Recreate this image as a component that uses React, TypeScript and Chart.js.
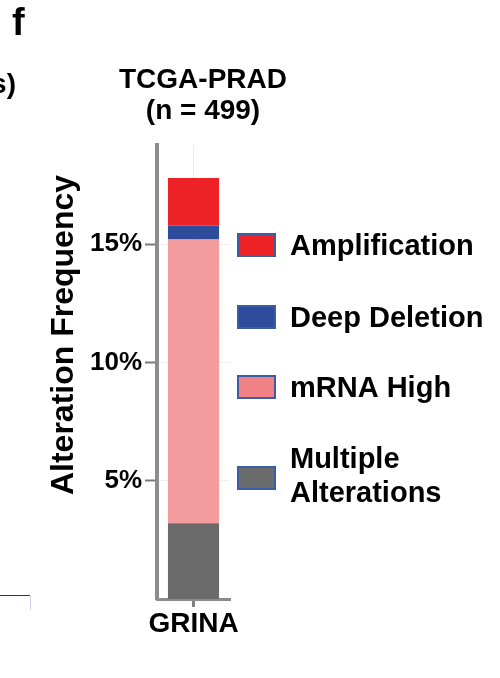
import React, { useEffect, useRef } from 'react';
import { Chart, registerables } from 'chart.js';

Chart.register(...registerables);

const categories = ['GRINA'];
const seriesLabels = ['Multiple Alterations', 'mRNA High', 'Deep Deletion', 'Amplification'];
const multipleAlterations = [3.2];
const mrnaHigh = [12.0];
const deepDeletion = [0.6];
const amplification = [2.0];
const seriesColors = ['#6b6b6b', '#f39c9d', '#2f4b9c', '#ed2227'];
const legendSwatchColors = ['#6b6b6b', '#f08185', '#2f4b9c', '#ed2227'];
const yTickValues = [5, 10, 15];
const yMax = 19.2;
const titleLines = ['TCGA-PRAD', '(n = 499)'];
const yAxisTitle = 'Alteration Frequency';
const panelLetter = 'f';
const neighbourText = 's)';

const FONT = '"Liberation Sans", Arial, Helvetica, sans-serif';

const decorPlugin = {
  id: 'decor',
  afterDraw(chart: any) {
    const ctx = chart.ctx as CanvasRenderingContext2D;
    ctx.save();
    ctx.fillStyle = '#000';

    // panel letter
    ctx.font = `bold 38px ${FONT}`;
    ctx.textAlign = 'left';
    ctx.textBaseline = 'alphabetic';
    ctx.fillText(panelLetter, 12, 35);

    // neighbouring panel fragment
    ctx.font = `bold 28px ${FONT}`;
    ctx.textAlign = 'right';
    ctx.fillText(neighbourText, 16, 93);

    // title
    ctx.font = `bold 28px ${FONT}`;
    ctx.textAlign = 'center';
    ctx.fillText(titleLines[0], 203, 88);
    ctx.fillText(titleLines[1], 203, 119);

    // y-axis title
    ctx.save();
    ctx.translate(73, 335);
    ctx.rotate(-Math.PI / 2);
    ctx.font = `bold 32px ${FONT}`;
    ctx.textAlign = 'center';
    ctx.textBaseline = 'alphabetic';
    ctx.fillText(yAxisTitle, 0, 0);
    ctx.restore();

    // legend (top of stack first)
    const centers = [245, 317, 387, 478];
    const ds = chart.data.datasets.slice().reverse();
    const swatches = legendSwatchColors.slice().reverse();
    ctx.font = `bold 29px ${FONT}`;
    ctx.textAlign = 'left';
    ds.forEach((d: any, i: number) => {
      const cy = centers[i];
      ctx.fillStyle = swatches[i];
      ctx.fillRect(238, cy - 11, 37, 22);
      ctx.strokeStyle = '#3b5ca6';
      ctx.lineWidth = 2;
      ctx.strokeRect(238, cy - 11, 37, 22);
      // wrap
      const words = String(d.label).split(' ');
      const lines: string[] = [];
      let cur = '';
      words.forEach((w) => {
        const t = cur ? cur + ' ' + w : w;
        if (ctx.measureText(t).width > 205 && cur) {
          lines.push(cur);
          cur = w;
        } else cur = t;
      });
      if (cur) lines.push(cur);
      ctx.fillStyle = '#000';
      lines.forEach((ln, j) => {
        ctx.fillText(ln, 290, cy + 10 - (lines.length - 1) * 20 + j * 34);
      });
    });

    // fragment of neighbouring panel frame
    ctx.strokeStyle = '#333';
    ctx.lineWidth = 1;
    ctx.beginPath();
    ctx.moveTo(0, 595.5);
    ctx.lineTo(30, 595.5);
    ctx.stroke();
    ctx.strokeStyle = '#c9d3e3';
    ctx.beginPath();
    ctx.moveTo(30.5, 596);
    ctx.lineTo(30.5, 610);
    ctx.stroke();

    ctx.restore();
  },
};

export default function App() {
  const ref = useRef<HTMLCanvasElement | null>(null);

  useEffect(() => {
    if (!ref.current) return;
    const values = [multipleAlterations, mrnaHigh, deepDeletion, amplification];
    const chart = new Chart(ref.current, {
      type: 'bar',
      data: {
        labels: categories,
        datasets: values.map((v, i) => ({
          label: seriesLabels[i],
          data: v,
          backgroundColor: seriesColors[i],
          borderWidth: 0,
          barPercentage: 0.7,
          categoryPercentage: 1,
        })),
      },
      options: {
        responsive: false,
        animation: false,
        devicePixelRatio: 1,
        layout: { padding: { left: 0, right: 270, top: 145, bottom: 0 } },
        plugins: {
          legend: { display: false },
          title: { display: false },
          tooltip: { enabled: false },
        },
        scales: {
          x: {
            stacked: true,
            afterFit: (s: any) => {
              s.height = 79;
            },
            grid: {
              offset: false,
              color: '#e9edf1',
              tickColor: '#808080',
              tickLength: 8,
              tickWidth: 3,
              lineWidth: 1,
            },
            border: { color: '#8c8c8c', width: 3 },
            ticks: {
              color: '#000',
              padding: 0,
              font: { family: FONT, size: 28, weight: 'bold' },
            },
          },
          y: {
            stacked: true,
            min: 0,
            max: yMax,
            afterFit: (s: any) => {
              s.width = 157;
            },
            afterBuildTicks: (s: any) => {
              s.ticks = yTickValues.map((v) => ({ value: v }));
            },
            grid: {
              color: '#eef0f3',
              tickColor: '#7a7a7a',
              tickLength: 12,
              tickWidth: 2,
              lineWidth: 1,
            },
            border: { color: '#8c8c8c', width: 4 },
            ticks: {
              color: '#000',
              padding: 3,
              font: { family: FONT, size: 26, weight: 'bold' },
              callback: (v: any) => `${v}%`,
            },
          },
        },
      },
      plugins: [decorPlugin],
    } as any);
    return () => chart.destroy();
  }, []);

  return (
    <div style={{ position: 'absolute', left: 0, top: 0, width: 500, height: 678, background: '#fff' }}>
      <canvas ref={ref} width={500} height={678} style={{ display: 'block' }} />
    </div>
  );
}
